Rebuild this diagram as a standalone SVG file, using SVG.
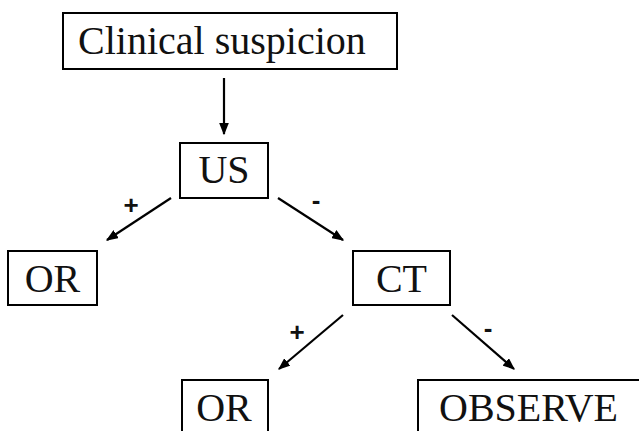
<svg xmlns="http://www.w3.org/2000/svg" width="639" height="431" viewBox="0 0 639 431">
<defs>
<marker id="ah" viewBox="0 0 10 8" refX="9" refY="4" markerWidth="5.5" markerHeight="4.4" orient="auto" markerUnits="strokeWidth">
<path d="M0,0 L10,4 L0,8 z" fill="#000"/>
</marker>
<style>
.box{fill:#fff;stroke:#000;stroke-width:2}
.lbl{font-family:"Liberation Serif","Times New Roman",serif;font-size:40px;fill:#111}
.edge{stroke:#000;stroke-width:2.2;fill:none;marker-end:url(#ah)}
.sign{font-family:"Liberation Sans",Arial,sans-serif;font-size:26px;font-weight:bold;fill:#111;text-anchor:middle}
</style>
</defs>
<rect width="639" height="431" fill="#fff"/>
<g id="n-clinical">
<rect class="box" x="63" y="13" width="334" height="56"/>
<text class="lbl" x="78" y="54">Clinical suspicion</text>
</g>
<g id="n-us">
<rect class="box" x="180" y="143" width="88" height="55"/>
<text class="lbl" x="224" y="183" text-anchor="middle">US</text>
</g>
<g id="n-or1">
<rect class="box" x="8" y="251" width="89" height="54"/>
<text class="lbl" x="52.5" y="292" text-anchor="middle">OR</text>
</g>
<g id="n-ct">
<rect class="box" x="353" y="251" width="97" height="54"/>
<text class="lbl" x="401.5" y="292" text-anchor="middle">CT</text>
</g>
<g id="n-or2">
<rect class="box" x="182" y="380" width="86" height="60"/>
<text class="lbl" x="224" y="421" text-anchor="middle">OR</text>
</g>
<g id="n-observe">
<rect class="box" x="418" y="380" width="240" height="60"/>
<text class="lbl" x="439" y="421">OBSERVE</text>
</g>
<g id="connectors">
<line class="edge" x1="224" y1="78" x2="224" y2="134"/>
<line class="edge" x1="171" y1="198" x2="107" y2="240"/>
<line class="edge" x1="278" y1="198" x2="343" y2="240"/>
<line class="edge" x1="343" y1="315" x2="279" y2="369"/>
<line class="edge" x1="452" y1="315" x2="514" y2="369"/>
<text class="sign" x="131" y="214">+</text>
<text class="sign" x="316" y="209">-</text>
<text class="sign" x="297" y="341">+</text>
<text class="sign" x="488" y="337">-</text>
</g>
</svg>
